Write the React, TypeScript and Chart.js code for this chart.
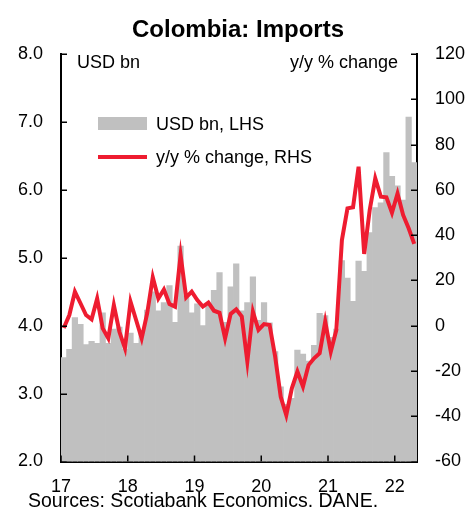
import React, { useEffect, useRef } from "react";
import { Chart, registerables } from "chart.js";

Chart.register(...registerables);

const TITLE = "Colombia: Imports";
const LEFT_UNIT = "USD bn";
const RIGHT_UNIT = "y/y % change";
const SOURCE = "Sources: Scotiabank Economics. DANE.";
const BAR_LABEL = "USD bn, LHS";
const LINE_LABEL = "y/y % change, RHS";

const YEARS = ["17", "18", "19", "20", "21", "22"];
const MONTH_NAMES = ["Jan", "Feb", "Mar", "Apr", "May", "Jun", "Jul", "Aug", "Sep", "Oct", "Nov", "Dec"];

// Imports, USD bn (monthly, Jan-17 .. Apr-22)
const IMPORTS_2017 = [3.53, 3.65, 4.12, 4.02, 3.72, 3.77, 3.74, 4.19, 3.74, 3.95, 3.98, 3.65];
const IMPORTS_2018 = [3.89, 3.74, 3.89, 4.23, 4.5, 4.22, 4.34, 4.59, 4.05, 5.17, 4.44, 4.19];
const IMPORTS_2019 = [4.32, 4.0, 4.3, 4.52, 4.78, 4.05, 4.57, 4.91, 4.22, 4.34, 4.72, 4.08];
const IMPORTS_2020 = [4.34, 4.04, 3.62, 3.1, 2.84, 2.93, 3.64, 3.58, 3.48, 3.71, 4.18, 4.15];
const IMPORTS_2021 = [3.83, 3.95, 4.96, 4.7, 4.36, 4.95, 4.8, 5.37, 5.74, 5.81, 6.55, 6.2];
const IMPORTS_2022 = [6.06, 5.85, 7.07, 6.4];

// y/y % change
const YOY_2017 = [-1, 4.7, 15, 9.9, 4.7, 2.8, 12, -1.2, -5.6, 9.1, -2.7, -10];
const YOY_2018 = [10.6, 2.5, -5.6, 5.5, 21.4, 12, 16, 9.6, 8.4, 31.2, 12.5, 15];
const YOY_2019 = [11.3, 8.4, 10.2, 6.6, 5.7, -5.6, 5.2, 7.2, 4.0, -15.9, 6.2, -1.9];
const YOY_2020 = [0.7, 0.3, -13.7, -31.4, -39.5, -27.7, -20.3, -26.9, -17.4, -14.4, -12.2, 1.8];
const YOY_2021 = [-11.5, -1.9, 37.8, 51.8, 52.3, 70.2, 31.7, 51.1, 65.1, 57.0, 56.7, 49.9];
const YOY_2022 = [58.4, 48.9, 43.0, 36.1];

const IMPORTS = [...IMPORTS_2017, ...IMPORTS_2018, ...IMPORTS_2019, ...IMPORTS_2020, ...IMPORTS_2021, ...IMPORTS_2022];
const YOY = [...YOY_2017, ...YOY_2018, ...YOY_2019, ...YOY_2020, ...YOY_2021, ...YOY_2022];
const MONTH_LABELS = IMPORTS.map((_, i) => `${MONTH_NAMES[i % 12]} ${YEARS[Math.floor(i / 12)]}`);

const LEFT_TICKS = [2, 3, 4, 5, 6, 7, 8];
const RIGHT_TICKS = [-60, -40, -20, 0, 20, 40, 60, 80, 100, 120];

const FONT = "'Liberation Sans', Arial, sans-serif";
const GRAY = "#c0c0c0";
const RED = "#ee1c30";

const W = 465;
const H = 516;

const overlay = {
  id: "overlay",
  afterDraw(chart: any) {
    const ctx = chart.ctx as CanvasRenderingContext2D;
    const area = chart.chartArea;
    const x = chart.scales.x;
    const yl = chart.scales.y;
    const yr = chart.scales.y1;
    ctx.save();
    ctx.strokeStyle = "#000";
    ctx.lineWidth = 1.5;
    const tl = 6;
    ctx.beginPath();
    yl.ticks.forEach((t: any) => {
      const py = Math.round(yl.getPixelForValue(t.value)) + 0.25;
      ctx.moveTo(area.left, py);
      ctx.lineTo(area.left + tl, py);
    });
    yr.ticks.forEach((t: any) => {
      const py = Math.round(yr.getPixelForValue(t.value)) + 0.25;
      ctx.moveTo(area.right - tl, py);
      ctx.lineTo(area.right, py);
    });
    const half = (area.right - area.left) / MONTH_LABELS.length / 2;
    for (let i = 0; i <= MONTH_LABELS.length; i += 12) {
      const px = i < MONTH_LABELS.length ? x.getPixelForValue(i) - half : area.right;
      ctx.moveTo(px, area.bottom);
      ctx.lineTo(px, area.bottom - tl);
    }
    ctx.stroke();

    ctx.fillStyle = "#000";
    ctx.font = `bold 24px ${FONT}`;
    ctx.textAlign = "center";
    ctx.textBaseline = "alphabetic";
    ctx.fillText(TITLE, 238, 37);

    ctx.font = `18px ${FONT}`;
    ctx.textAlign = "left";
    ctx.fillText(LEFT_UNIT, 77, 68);
    ctx.textAlign = "right";
    ctx.fillText(RIGHT_UNIT, 398, 68);

    // legend
    ctx.fillStyle = GRAY;
    ctx.fillRect(98, 117, 49, 13);
    ctx.strokeStyle = RED;
    ctx.lineWidth = 4;
    ctx.beginPath();
    ctx.moveTo(98, 157);
    ctx.lineTo(147, 157);
    ctx.stroke();
    ctx.fillStyle = "#000";
    ctx.textAlign = "left";
    ctx.font = `18px ${FONT}`;
    ctx.fillText(BAR_LABEL, 156, 130);
    ctx.fillText(LINE_LABEL, 156, 163);

    ctx.font = `19.5px ${FONT}`;
    ctx.fillText(SOURCE, 28, 507);
    ctx.restore();
  },
};

export default function App() {
  const ref = useRef<HTMLCanvasElement>(null);
  useEffect(() => {
    document.body.style.margin = "0";
    const canvas = ref.current!;
    const chart = new Chart(canvas, {
      type: "bar",
      data: {
        labels: MONTH_LABELS,
        datasets: [
          {
            type: "line",
            label: LINE_LABEL,
            data: YOY,
            yAxisID: "y1",
            borderColor: RED,
            borderWidth: 4,
            pointRadius: 0,
            tension: 0,
            order: 1,
          } as any,
          {
            type: "bar",
            label: BAR_LABEL,
            data: IMPORTS,
            yAxisID: "y",
            backgroundColor: GRAY,
            borderWidth: 0,
            barPercentage: 1,
            categoryPercentage: 1,
            order: 2,
          },
        ],
      },
      options: {
        responsive: false,
        animation: false,
        layout: { padding: { top: 54, left: 0, right: 0, bottom: 0 } },
        plugins: { legend: { display: false }, tooltip: { enabled: false }, title: { display: false } },
        scales: {
          x: {
            type: "category",
            offset: true,
            grid: { display: false, drawTicks: false },
            border: { display: true, color: "#000", width: 2 },
            ticks: {
              autoSkip: false,
              maxRotation: 0,
              padding: 15,
              labelOffset: -2.78,
              color: "#000",
              font: { family: FONT, size: 18 },
              callback: (_v: any, i: number) => (i % 12 === 0 ? YEARS[i / 12] : ""),
            },
            afterFit: (s: any) => {
              s.height = 54.5;
            },
          },
          y: {
            position: "left",
            min: 2,
            max: 8,
            grid: { display: false, drawTicks: false },
            border: { display: true, color: "#000", width: 2 },
            afterBuildTicks: (s: any) => {
              s.ticks = LEFT_TICKS.map((v) => ({ value: v }));
            },
            ticks: {
              padding: 18,
              color: "#000",
              font: { family: FONT, size: 18 },
              callback: (v: any) => Number(v).toFixed(1),
            },
            afterFit: (s: any) => {
              s.width = 61;
            },
          },
          y1: {
            position: "right",
            min: -60,
            max: 120,
            grid: { display: false, drawTicks: false },
            border: { display: true, color: "#000", width: 2 },
            afterBuildTicks: (s: any) => {
              s.ticks = RIGHT_TICKS.map((v) => ({ value: v }));
            },
            ticks: {
              padding: 18,
              color: "#000",
              font: { family: FONT, size: 18 },
              callback: (v: any) => String(v),
            },
            afterFit: (s: any) => {
              s.width = 48;
            },
          },
        },
      },
      plugins: [overlay],
    });
    return () => chart.destroy();
  }, []);
  return (
    <div style={{ position: "fixed", left: 0, top: 0, width: W, height: H, background: "#fff" }}>
      <canvas ref={ref} width={W} height={H} style={{ width: W, height: H, display: "block" }} />
    </div>
  );
}
